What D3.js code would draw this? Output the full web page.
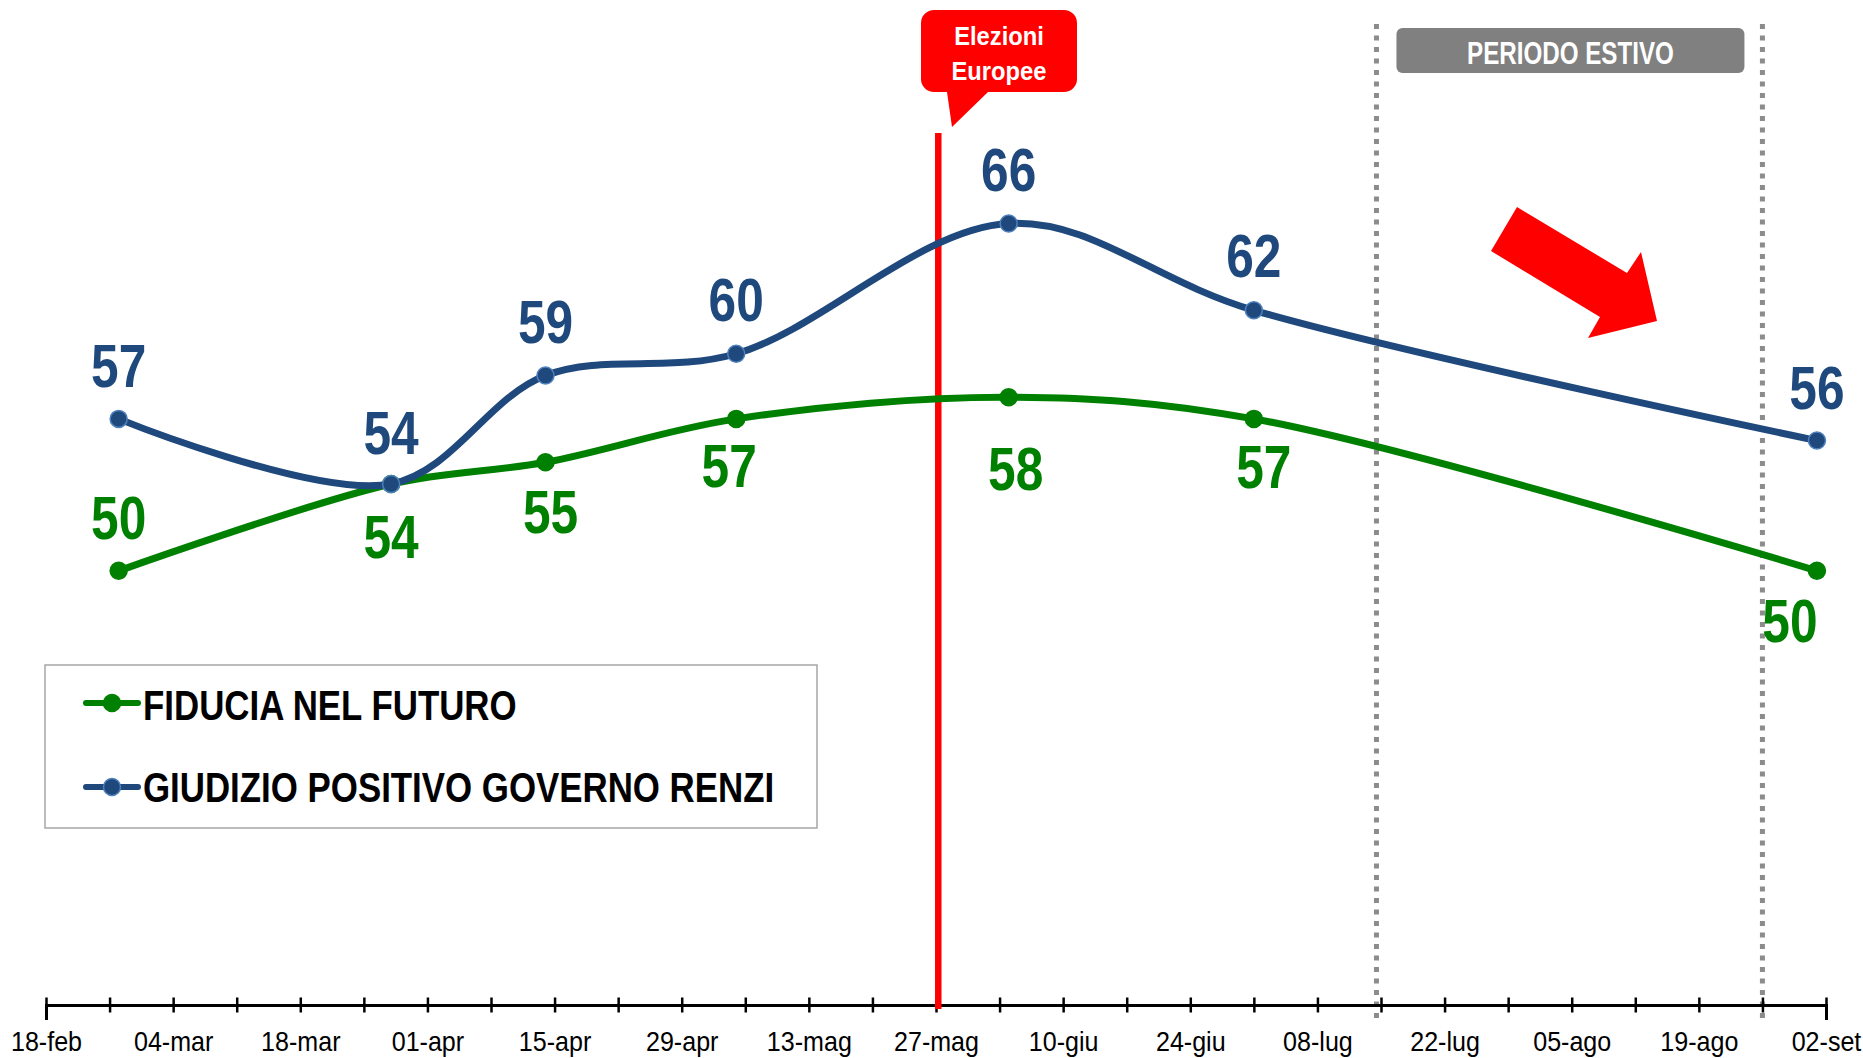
<!DOCTYPE html>
<html>
<head>
<meta charset="utf-8">
<script src="https://cdn.jsdelivr.net/npm/d3@7"></script>
<style>
  body { margin: 0; background: #fff; }
  svg { display: block; }
  text { font-family: "Liberation Sans", Arial, sans-serif; }
  .bold { font-weight: bold; }
</style>
</head>
<body>
<svg id="chart" width="1863" height="1058"></svg>
<script>
// survey dates and the two series
var surveyDates = ['2014-02-26', '2014-03-28', '2014-04-14', '2014-05-05', '2014-06-04', '2014-07-01', '2014-09-01'];
var fiducia = [50, 54, 55, 57, 58, 57, 50];
var governo = [57, 54, 59, 60, 66, 62, 56];
var seriesNames = ['FIDUCIA NEL FUTURO', 'GIUDIZIO POSITIVO GOVERNO RENZI'];
var tickLabels = ['18-feb', '04-mar', '18-mar', '01-apr', '15-apr', '29-apr', '13-mag',
  '27-mag', '10-giu', '24-giu', '08-lug', '22-lug', '05-ago', '19-ago', '02-set'];
var axisRange = ['2014-02-18', '2014-09-02'];
var electionDate = '2014-05-27T06:00';
var summerRange = ['2014-07-14T12:00', '2014-08-26T00:00'];

// label nudges (pixels) for the data labels, as placed in the original
var fiduciaLabelShift = [[0, -54], [0, 52], [5, 49], [-7, 46], [7, 71], [10, 47], [-27, 49]];
var governoLabelShift = [[0, -54], [0, -52], [0, -54], [0, -55], [0, -55], [0, -55], [0, -54]];

var parse = function (s) { return s.length > 10 ? d3.utcParse('%Y-%m-%dT%H:%M')(s) : d3.utcParse('%Y-%m-%d')(s); };

var axisY = 1005;
var green = '#008000', blue = '#1f497d', blueEdge = '#4f81bd';

var svg = d3.select('#chart');

// condensed bold text (the original uses a narrow face)
function narrowText(parent, tx, ty, str, size, color, anchor, sx) {
  return parent.append('text')
    .attr('class', 'bold')
    .attr('transform', 'translate(' + tx + ',' + ty + ') scale(' + (sx || 0.8) + ',1)')
    .attr('text-anchor', anchor || 'middle')
    .attr('font-size', size)
    .attr('fill', color)
    .text(str);
}

var x = d3.scaleUtc()
  .domain(axisRange.map(parse))
  .range([46, 1826]);
var y = d3.scaleLinear()
  .domain([30, 66])
  .range([axisY, 223.5]);

// summer period dotted lines + label
summerRange.forEach(function (d) {
  svg.append('line')
    .attr('x1', x(parse(d))).attr('x2', x(parse(d)))
    .attr('y1', 24).attr('y2', 1018)
    .attr('stroke', '#8c8c8c')
    .attr('stroke-width', 5)
    .attr('stroke-dasharray', '5 6.5');
});
var sx0 = x(parse(summerRange[0])) + 20, sx1 = x(parse(summerRange[1])) - 18;
svg.append('rect')
  .attr('x', sx0).attr('y', 28)
  .attr('width', sx1 - sx0).attr('height', 45)
  .attr('rx', 6)
  .attr('fill', '#808080');
narrowText(svg, (sx0 + sx1) / 2, 64, 'PERIODO ESTIVO', 31, '#fff', 'middle', 0.78);

// x axis, one tick a week, a label every two weeks
var start = parse(axisRange[0]);
var weekly = d3.range(29).map(function (i) { return d3.utcDay.offset(start, 7 * i); });
var xAxis = d3.axisBottom(x)
  .tickValues(weekly)
  .tickSizeOuter(0)
  .tickSize(15)
  .tickFormat(function (d, i) { return i % 2 === 0 ? tickLabels[i / 2] : ''; });
var gx = svg.append('g')
  .attr('transform', 'translate(0,' + axisY + ')')
  .call(xAxis);
gx.select('.domain').attr('stroke', '#000').attr('stroke-width', 3);
gx.selectAll('.tick line').attr('y1', -7.5).attr('y2', 7.5).attr('stroke', '#000').attr('stroke-width', 2.5);
gx.selectAll('.tick text')
  .attr('y', 0).attr('dy', 0)
  .attr('transform', 'translate(0,46) scale(0.88,1)')
  .attr('fill', '#000')
  .attr('font-family', '"Liberation Sans", Arial, sans-serif')
  .attr('font-size', 28.5);

// election marker
var ex = x(parse(electionDate));
svg.append('line')
  .attr('x1', ex).attr('x2', ex)
  .attr('y1', 133).attr('y2', axisY + 4)
  .attr('stroke', '#ff0000')
  .attr('stroke-width', 6.5);

var bx0 = 921, bx1 = 1077, by0 = 10, by1 = 92, r = 13;
var p = d3.path();
p.moveTo(bx0 + r, by0);
p.lineTo(bx1 - r, by0);
p.arcTo(bx1, by0, bx1, by0 + r, r);
p.lineTo(bx1, by1 - r);
p.arcTo(bx1, by1, bx1 - r, by1, r);
p.lineTo(988, by1);
p.lineTo(952, 127);
p.lineTo(947, by1);
p.lineTo(bx0 + r, by1);
p.arcTo(bx0, by1, bx0, by1 - r, r);
p.lineTo(bx0, by0 + r);
p.arcTo(bx0, by0, bx0 + r, by0, r);
p.closePath();
svg.append('path').attr('d', p.toString()).attr('fill', '#ff0000');
narrowText(svg, (bx0 + bx1) / 2, 45, 'Elezioni', 25, '#fff', 'middle', 0.95);
narrowText(svg, (bx0 + bx1) / 2, 80, 'Europee', 25, '#fff', 'middle', 0.95);

// red arrow pointing down-right
var arrow = [[1517, 207], [1627, 273], [1641, 252], [1657, 321], [1588, 338], [1600, 317], [1491, 251]];
svg.append('polygon')
  .attr('points', arrow.map(function (a) { return a.join(','); }).join(' '))
  .attr('fill', '#ff0000');

// series lines
var line = d3.line()
  .x(function (d, i) { return x(parse(surveyDates[i])); })
  .y(function (d) { return y(d); })
  .curve(d3.curveCatmullRom.alpha(0.5));

function drawSeries(values, color, edge, shifts) {
  svg.append('path')
    .datum(values)
    .attr('d', line)
    .attr('fill', 'none')
    .attr('stroke', color)
    .attr('stroke-width', 7)
    .attr('stroke-linecap', 'round');
  svg.selectAll(null)
    .data(values)
    .enter()
    .append('circle')
    .attr('cx', function (d, i) { return x(parse(surveyDates[i])); })
    .attr('cy', function (d) { return y(d); })
    .attr('r', 8.5)
    .attr('fill', color)
    .attr('stroke', edge)
    .attr('stroke-width', 1.5);
  values.forEach(function (d, i) {
    narrowText(svg, x(parse(surveyDates[i])) + shifts[i][0], y(d) + shifts[i][1] + 22, d, 62, color, 'middle', 0.8);
  });
}
drawSeries(fiducia, green, green, fiduciaLabelShift);
drawSeries(governo, blue, blueEdge, governoLabelShift);

// legend
var legend = svg.append('g');
legend.append('rect')
  .attr('x', 45).attr('y', 665)
  .attr('width', 772).attr('height', 163)
  .attr('fill', '#fff')
  .attr('stroke', '#a6a6a6')
  .attr('stroke-width', 1.5);
[[green, green, 703, 720], [blue, blueEdge, 787, 802]].forEach(function (s, i) {
  legend.append('line')
    .attr('x1', 86).attr('x2', 138)
    .attr('y1', s[2]).attr('y2', s[2])
    .attr('stroke', s[0])
    .attr('stroke-width', 6)
    .attr('stroke-linecap', 'round');
  legend.append('circle')
    .attr('cx', 112).attr('cy', s[2])
    .attr('r', 8.5)
    .attr('fill', s[0])
    .attr('stroke', s[1])
    .attr('stroke-width', 1.5);
  narrowText(legend, 143, s[3], seriesNames[i], 42, '#000', 'start', 0.83);
});
</script>
</body>
</html>
